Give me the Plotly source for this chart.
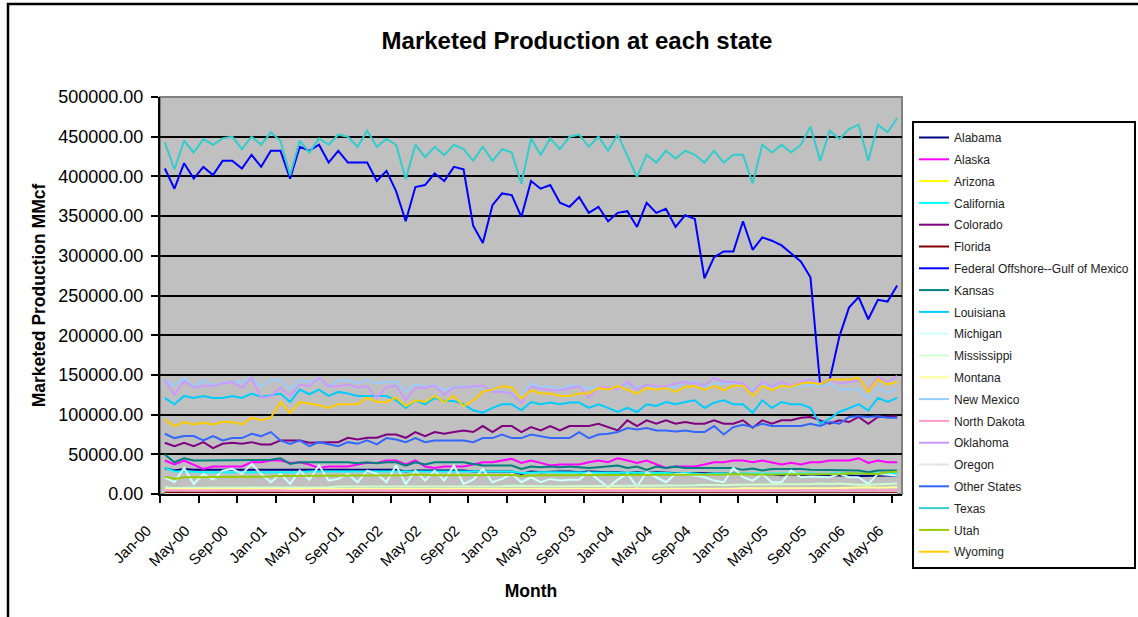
import pandas as pd
import plotly.graph_objects as go

# 月份类目 Jan-00 .. May-06
months = [d.strftime("%b-%y") for d in pd.date_range("2000-01-01", "2006-05-01", freq="MS")]

alabama = [32500, 29500, 31600, 30400, 30400, 30400, 30400, 30400, 30400, 30400,
           30400, 30400, 30400, 29500, 30400, 30400, 30400, 30400, 30400, 29500,
           29500, 29500, 29500, 30400, 30400, 28300, 29500, 29500, 29500, 29500,
           29500, 29500, 28300, 28300, 28300, 28300, 28300, 25300, 28300,
           27400, 28300, 28300, 28300, 27400, 28300, 27400, 27400, 27400, 26600,
           27400, 26600, 27400, 26600, 26600, 25700, 26600, 25700, 25700, 25700,
           25700, 25300, 25700, 24800, 24800, 23600, 24800, 23600, 23600, 24000,
           23200, 23200, 23200, 22800, 23200, 22800, 23200, 23200]
alaska = [42200, 37100, 42200, 37100, 31600, 34600, 34600, 34600, 34600, 40000,
          40000, 42200, 42200, 39200, 40000, 37100, 32900, 34600, 34600, 34600,
          37100, 39200, 39200, 42200, 42200, 37100, 42200, 34600, 32900, 34600,
          34600, 34600, 37100, 40000, 40000, 42200, 44300, 39200, 42200,
          39200, 35800, 37100, 37100, 37100, 40000, 42200, 40000, 45100, 42200,
          39200, 42200, 37100, 32900, 34600, 34600, 34600, 37100, 40000, 40000,
          42200, 42200, 40000, 42200, 39200, 37100, 39200, 37100, 40000, 40000,
          42200, 42200, 42200, 45100, 39200, 42200, 40000, 40000]
arizona = [60, 50, 60, 60, 60, 60, 60, 60, 50, 60,
           50, 50, 50, 40, 50, 50, 50, 50, 50, 50,
           50, 50, 50, 50, 40, 40, 40, 40, 40, 40,
           40, 40, 40, 40, 40, 40, 40, 30, 40,
           40, 40, 40, 40, 40, 40, 40, 40, 40, 40,
           40, 40, 40, 40, 40, 40, 30, 30, 30, 30,
           30, 30, 30, 30, 30, 30, 30, 30, 30, 30,
           30, 30, 30, 30, 30, 30, 30, 30]
california = [32900, 28300, 28300, 27400, 27400, 27400, 27400, 27400, 27400, 27400,
              27400, 27400, 27400, 26600, 27400, 28300, 28300, 28300, 28300, 28300,
              28300, 28300, 28300, 28300, 28300, 27400, 28300, 28300, 28300, 28300,
              28300, 27400, 27400, 27400, 27400, 28300, 28300, 26600, 27400,
              27400, 27400, 27400, 26600, 27400, 27400, 26600, 26600, 26600, 26600,
              26600, 26600, 26600, 26600, 25700, 26600, 25700, 24800, 25700, 25700,
              26600, 25700, 25700, 25700, 25700, 25700, 25700, 26600, 25700, 25300,
              25700, 25700, 26600, 25700, 26600, 25700, 26600, 26600]
colorado = [64500, 60300, 64500, 60300, 65300, 57800, 63200, 64500, 63200, 65300,
            62400, 62400, 67500, 67500, 67500, 64500, 65300, 65300, 65300, 70800,
            68700, 70800, 70800, 75000, 75000, 70800, 78000, 72900, 78000, 75900,
            78000, 80100, 78000, 85600, 78000, 85600, 85600, 78000, 84300,
            80100, 85600, 80100, 85600, 85600, 85600, 88500, 84300, 80100, 92800,
            85600, 92800, 88500, 92800, 88500, 90600, 88500, 88500, 92800, 88500,
            88500, 92800, 83500, 92800, 88500, 92800, 92800, 96100, 97000, 92800,
            88500, 92800, 90600, 97000, 88500, 97000, 97000, 97800]
florida = [1500, 1300, 1500, 1400, 1500, 1500, 1500, 1500, 1400, 1500,
           1400, 1400, 1400, 1300, 1400, 1400, 1400, 1400, 1400, 1400,
           1300, 1300, 1300, 1300, 1300, 1200, 1300, 1300, 1300, 1300,
           1300, 1200, 1300, 1300, 1300, 1300, 1200, 1100, 1200,
           1200, 1200, 1200, 1200, 1200, 1100, 1200, 1200, 1200, 1200,
           1100, 1100, 1100, 1100, 1100, 1100, 1100, 1100, 1100, 1100,
           1100, 1100, 1000, 1100, 1100, 1100, 1100, 1100, 1000, 1000,
           1000, 1000, 1000, 1000, 900, 1000, 1000, 1000]
gulf_offshore = [409900, 384500, 416600, 397200, 412000, 401800, 419600, 419600, 409900, 427200,
                 412000, 432300, 432300, 397200, 437300, 432300, 439900, 417500, 432300, 417500,
                 417500, 417500, 394200, 406900, 381500, 343500, 386600, 389100, 403900, 394200,
                 412000, 409000, 338000, 316000, 363800, 378600, 376500, 349000, 394200, 384500,
                 389100, 366800, 361700, 373900, 354100, 361700, 343500, 354100, 356200, 336300,
                 366800, 354100, 359100, 336300, 351100, 346500, 271700, 298300, 305500, 305500,
                 343500, 307600, 323200, 319000, 313100, 302500, 292800, 272900, 138300, 144200,
                 198200, 234800, 247900, 220100, 244500, 242400, 262700]
kansas = [49700, 40000, 45100, 42200, 42200, 42200, 42200, 42200, 42200, 42200,
          42200, 43000, 45100, 37900, 40000, 40000, 40000, 40000, 40000, 40000,
          38800, 40000, 38800, 40000, 40000, 35800, 40000, 37100, 40000, 40000,
          40000, 40000, 37900, 35800, 35800, 35800, 35800, 31600, 34600,
          33700, 34600, 33700, 34600, 33700, 32900, 33700, 34600, 35800, 32900,
          34600, 30400, 34600, 32900, 34600, 32900, 32900, 32900, 32900, 32900,
          32900, 30400, 32000, 29500, 31600, 31600, 31600, 31600, 30400, 30400,
          29500, 29500, 29500, 29500, 27400, 29500, 29500, 29500]
louisiana = [121000, 113000, 123500, 121000, 123500, 121000, 121000, 123500, 121000, 126500,
             122300, 124400, 126500, 115900, 131500, 125600, 131500, 123500, 128600, 126500,
             123500, 123500, 123500, 123500, 118000, 108400, 118000, 113000, 121000, 117100,
             117100, 113000, 105400, 102400, 108400, 113000, 113000, 105400, 115900,
             113000, 115100, 113000, 115100, 115100, 108400, 113000, 108400, 103300, 108400,
             103300, 113000, 110900, 115900, 113000, 115900, 118000, 108400, 115100, 118000,
             113000, 113000, 102400, 118000, 108400, 115900, 113000, 113000, 108400, 88500,
             94900, 103300, 108400, 113000, 105400, 121000, 115900, 121000]
michigan = [21100, 14800, 32900, 12600, 25300, 18100, 29500, 31600, 25300, 37900,
            25300, 14800, 25300, 12600, 29500, 18100, 35800, 16900, 19000, 25300,
            14800, 29500, 25300, 14800, 35800, 12600, 29500, 16900, 29500, 16900,
            35800, 12600, 18100, 31600, 14800, 19000, 25300, 14800, 21100,
            14800, 19000, 16900, 18100, 18100, 27400, 18100, 8400, 18100, 25300,
            9300, 27400, 21100, 14800, 25300, 25300, 23200, 21100, 16900, 14800,
            32900, 21100, 16900, 25300, 14800, 14800, 29500, 21100, 21900, 21100,
            21100, 25300, 21100, 21100, 12600, 25300, 24500, 23200]
mississippi = [8400, 7600, 8000, 8000, 8000, 8000, 8000, 8000, 8000, 8000,
               8000, 8400, 8400, 8400, 8400, 8400, 8400, 8400, 9300, 9300,
               9300, 9300, 9300, 9300, 9300, 9300, 9300, 9300, 9300, 9300,
               9700, 9700, 9700, 9700, 9700, 9700, 10500, 10100, 9700,
               9700, 9700, 9700, 10100, 10100, 10100, 10100, 10500, 10500, 10500,
               10500, 10500, 10500, 10500, 10500, 11000, 11000, 11800, 11000, 11000,
               11800, 11800, 11800, 11800, 12200, 12200, 12200, 12600, 12600, 13100,
               12600, 13100, 12200, 11800, 11800, 12200, 12600, 13100]
montana = [6300, 6000, 6300, 6300, 6300, 6300, 6300, 6300, 6300, 6300,
           6300, 6300, 6300, 5900, 6300, 6300, 6300, 6300, 6300, 6300,
           6300, 6300, 6300, 6300, 6300, 5900, 6300, 6300, 6300, 6300,
           6300, 6300, 6300, 6300, 6300, 6700, 6700, 6300, 6700, 6700,
           6700, 6700, 6700, 6700, 6700, 6700, 6700, 6700, 6700, 6700,
           6700, 6700, 6700, 6700, 6700, 6700, 6700, 6700, 6700, 6700,
           7100, 7100, 6700, 7100, 7100, 7100, 7100, 7100, 7600, 7600,
           7600, 8000, 8400, 8400, 8000, 8400, 8400]
new_mexico = [143300, 137000, 146300, 134900, 143300, 137000, 140000, 141200, 141200, 145500,
              135800, 143300, 143300, 131500, 143300, 141200, 145500, 134900, 143300, 143300,
              139100, 143300, 139100, 141200, 141200, 128600, 139100, 134900, 137000, 130700,
              134900, 135800, 134900, 135800, 130700, 128600, 126500, 124400, 139100,
              134900, 135800, 131500, 136200, 136200, 132800, 135800, 132800, 134100, 137900,
              134900, 137000, 134100, 134900, 134100, 141200, 141200, 134100, 139100, 139100,
              140000, 135800, 131500, 139100, 135800, 137000, 134100, 135800, 137900, 135800,
              139100, 131500, 131500, 131500, 120200, 133600, 127300, 132800]
north_dakota = [4600, 4200, 4600, 4400, 4600, 4400, 4600, 4600, 4400, 4600,
                4600, 4600, 4600, 4200, 4600, 4400, 4600, 4400, 4600, 4600,
                4400, 4600, 4600, 4400, 4600, 4200, 4600, 4400, 4600, 4400,
                4600, 4600, 4400, 4600, 4400, 4600, 4600, 4200, 4600,
                4400, 4600, 4400, 4600, 4600, 4400, 4600, 4600, 4400, 4600,
                4600, 4400, 4600, 4600, 4400, 4600, 4600, 4400, 4600, 4400,
                4600, 4600, 4200, 4600, 4400, 4600, 4600, 4600, 4400, 4600,
                4600, 4600, 4800, 4800, 4400, 4800, 4600, 4800]
oklahoma = [143300, 125200, 142100, 134100, 136200, 136200, 139100, 141200, 133600, 146300,
            121000, 123100, 134100, 123500, 137900, 135800, 146300, 135800, 135800, 138300,
            134100, 135800, 121000, 134900, 136600, 118000, 134100, 133600, 136600, 125200,
            134100, 134100, 135800, 136600, 128600, 128600, 126500, 114700, 134900,
            132800, 130700, 130700, 132800, 135800, 121400, 134900, 134100, 131500, 141200,
            131500, 137900, 135800, 135800, 139100, 141200, 139100, 137000, 146300, 141200,
            141200, 139100, 128600, 141200, 135800, 141200, 135800, 141200, 144200, 139100,
            144200, 139100, 141200, 143300, 131500, 147600, 141200, 148800]
oregon = [120, 110, 120, 110, 110, 100, 100, 100, 100, 100,
          100, 100, 100, 90, 100, 100, 100, 100, 100, 100,
          90, 90, 90, 90, 90, 80, 90, 90, 90, 90,
          90, 90, 90, 80, 80, 80, 80, 70, 80,
          80, 80, 80, 80, 80, 70, 70, 70, 70, 70,
          70, 70, 70, 70, 70, 70, 70, 70, 60, 60,
          60, 60, 60, 60, 60, 60, 60, 60, 60, 60,
          60, 60, 60, 60, 50, 60, 60, 60]
other_states = [75900, 70400, 72900, 72900, 67500, 72900, 67500, 70400, 70400, 75900,
                72900, 78000, 67500, 63200, 67500, 60300, 65300, 63200, 60300, 65300,
                63200, 67500, 62400, 70400, 68700, 65300, 70400, 65300, 67500, 67500,
                67500, 67500, 65300, 70400, 70400, 75000, 70400, 70400, 75000,
                72900, 70400, 70400, 70400, 78000, 70400, 75000, 75900, 78000, 83100,
                81400, 83100, 80100, 80100, 78800, 80100, 78000, 78000, 85600, 75000,
                84300, 87300, 84300, 88500, 85600, 85600, 85600, 85600, 88500, 85600,
                90600, 88500, 97000, 97800, 97000, 97800, 96100, 96100]
texas = [442800, 409000, 444900, 430100, 447000, 439900, 447900, 450000, 434400, 450000,
         439900, 455500, 444900, 401400, 444900, 430100, 447900, 439900, 452500, 450000,
         437300, 457600, 437300, 447000, 439900, 396300, 439900, 424200, 437300, 426800,
         439900, 434400, 419600, 437300, 419600, 434400, 430100, 390800, 447900, 427200,
         447900, 434400, 450000, 452500, 437300, 450000, 432300, 452500, 425900, 399300,
         427200, 417500, 432300, 422500, 432300, 427200, 417500, 432300, 417500, 427200,
         427200, 391300, 439900, 430100, 439900, 430100, 439900, 462700, 419600, 457600,
         447000, 459700, 465200, 419600, 465200, 455500, 473200]
utah = [21900, 19000, 21100, 21100, 21100, 21100, 21900, 21900, 21900, 21900,
        21900, 21900, 22800, 22800, 22800, 22800, 22800, 23600, 23600, 23600,
        23600, 23600, 23600, 23600, 23600, 23600, 24500, 23600, 23600, 23600,
        23600, 23600, 23600, 23600, 23600, 23600, 24000, 22800, 23600,
        23600, 23600, 23600, 23600, 23600, 23600, 24000, 24000, 24000, 24000,
        24000, 24000, 24000, 24000, 24000, 24000, 24000, 24500, 24500, 24500,
        25300, 24500, 24500, 24500, 24500, 25300, 25300, 24500, 24500, 25300,
        25300, 25300, 26100, 26100, 26100, 25300, 27400, 28300]
wyoming = [93600, 85200, 90600, 87700, 89800, 87700, 90600, 90600, 87700, 96100,
           92800, 96100, 115900, 102000, 115900, 113800, 111700, 108400, 113000, 113000,
           113000, 121400, 115900, 115900, 121400, 110900, 118000, 115900, 123500, 115900,
           123500, 110500, 118000, 128600, 131500, 135800, 134100, 120200, 130700,
           126500, 126500, 123500, 123500, 126500, 126500, 133600, 131500, 135800, 131500,
           126500, 133600, 131500, 133600, 128600, 134900, 135800, 131500, 136200, 130700,
           136200, 136200, 123500, 136200, 130700, 136200, 134900, 139100, 140400, 138300,
           144200, 144200, 144200, 146300, 128600, 144600, 137900, 141200]

series = [
    ("Alabama", alabama, "#000080"),
    ("Alaska", alaska, "#FF00FF"),
    ("Arizona", arizona, "#FFFF00"),
    ("California", california, "#00FFFF"),
    ("Colorado", colorado, "#800080"),
    ("Florida", florida, "#800000"),
    ("Federal Offshore--Gulf of Mexico", gulf_offshore, "#0000FF"),
    ("Kansas", kansas, "#008080"),
    ("Louisiana", louisiana, "#00CCFF"),
    ("Michigan", michigan, "#CCFFFF"),
    ("Mississippi", mississippi, "#CCFFCC"),
    ("Montana", montana, "#FFFF99"),
    ("New Mexico", new_mexico, "#99CCFF"),
    ("North Dakota", north_dakota, "#FF99CC"),
    ("Oklahoma", oklahoma, "#CC99FF"),
    ("Oregon", oregon, "#E3E3E3"),
    ("Other States", other_states, "#3366FF"),
    ("Texas", texas, "#33CCCC"),
    ("Utah", utah, "#99CC00"),
    ("Wyoming", wyoming, "#FFCC00"),
]

FONT = "Arial, Liberation Sans, sans-serif"
W, H = 1138, 617
L, R, T, B = 160, 236, 97, 123

fig = go.Figure()
for name, vals, color in series:
    assert len(vals) == len(months), name
    fig.add_trace(go.Scatter(
        x=months, y=vals, name=name, mode="lines",
        line={"color": color, "width": 2},
        legendgroup=name,
    ))

pw, ph = W - L - R, H - T - B
# 外框（图表区边框）
fig.add_shape(type="rect", xref="paper", yref="paper",
              x0=(8 - L) / pw, x1=(W + 10 - L) / pw,
              y0=-(H + 10 - T - ph) / ph, y1=1 + (T - 4) / ph,
              line={"color": "black", "width": 2.5})
# 绘图区灰色边框
fig.add_shape(type="rect", xref="paper", yref="paper", x0=0, x1=1, y0=0, y1=1,
              line={"color": "#808080", "width": 2}, layer="below")

fig.update_layout(
    width=W, height=H,
    margin={"l": L, "r": R, "t": T, "b": B, "autoexpand": False},
    title={"text": "<b>Marketed Production at each state</b>", "x": 0.507, "xref": "container",
           "xanchor": "center", "y": 1 - 41 / H, "yanchor": "middle",
           "font": {"size": 24, "color": "black", "family": FONT}},
    plot_bgcolor="#C0C0C0",
    paper_bgcolor="white",
    font={"family": FONT, "color": "black"},
    showlegend=True,
    legend={"x": 912 / W, "xref": "container", "y": 1 - 121 / H, "yref": "container",
            "xanchor": "left", "yanchor": "top", "maxheight": 470,
            "bordercolor": "black", "borderwidth": 2, "bgcolor": "white",
            "font": {"size": 12, "color": "#222222"},
            "tracegroupgap": 2.8, "traceorder": "grouped"},
    xaxis={"type": "category", "range": [-0.5, len(months) - 0.5],
           "tickmode": "linear", "tick0": 0, "dtick": 4, "tickson": "boundaries",
           "ticks": "outside", "ticklen": 7, "tickwidth": 2, "tickcolor": "black",
           "tickangle": -45, "tickfont": {"size": 15},
           "ticklabelshift": -18, "ticklabelstandoff": 20,
           "showgrid": False, "showline": True, "linecolor": "black", "linewidth": 2,
           "title": {"text": "<b>Month</b>", "font": {"size": 17.5}, "standoff": 16}},
    yaxis={"range": [0, 500000], "tickmode": "linear", "tick0": 0, "dtick": 50000,
           "tickformat": ".2f", "ticks": "outside", "ticklen": 7, "tickwidth": 2,
           "tickcolor": "black", "tickfont": {"size": 18}, "ticklabelstandoff": 4,
           "showgrid": True, "gridcolor": "black", "gridwidth": 1.5,
           "zeroline": False, "showline": True, "linecolor": "black", "linewidth": 2,
           "title": {"text": "<b>Marketed Production MMcf</b>", "font": {"size": 17.5}, "standoff": 8}},
)

# 去掉页面默认边距，让图表贴齐窗口
fig.write_html("out.html", config={"displayModeBar": False},
               post_script="document.body.style.margin='0';")
